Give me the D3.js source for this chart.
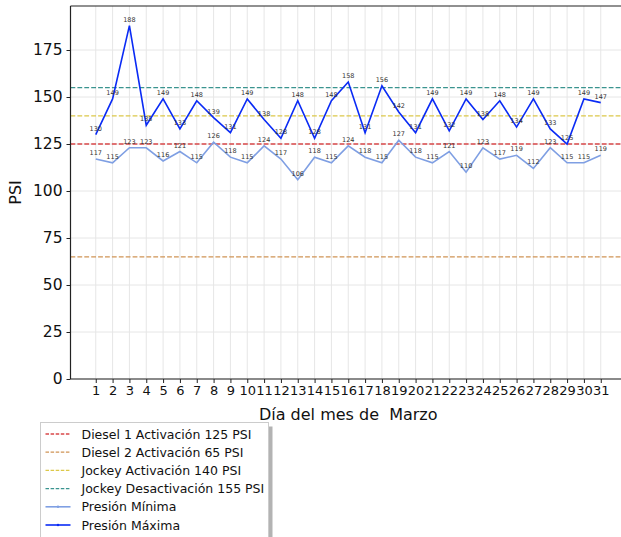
<!DOCTYPE html>
<html>
<head>
<meta charset="utf-8">
<script src="https://cdn.jsdelivr.net/npm/d3@7"></script>
<style>
  body { margin: 0; background: #fff; }
  svg { display: block; font-family: "DejaVu Sans", sans-serif; }
  text { white-space: pre; }
</style>
</head>
<body>
<svg id="chart" width="621" height="537"></svg>
<script>
const days = d3.range(1, 32);
const presionMaxima = [130,149,188,135,149,133,148,139,131,149,138,128,148,128,148,158,131,156,142,131,149,132,149,138,148,134,149,133,125,149,147];
const presionMinima = [117,115,123,123,116,121,115,126,118,115,124,117,106,118,115,124,118,115,127,118,115,121,110,123,117,119,112,123,115,115,119];
const refLabels = ["Diesel 1 Activación 125 PSI","Diesel 2 Activación 65 PSI","Jockey Activación 140 PSI","Jockey Desactivación 155 PSI"];
const refValues = [125, 65, 140, 155];
const refColors = ["#d9484a", "#cf9455", "#dcc849", "#3a948f"];
const yTicks = [0,25,50,75,100,125,150,175];
const xLabel = "Día del mes de  Marzo";
const yLabel = "PSI";
const minColor = "#7f9fe3";
const maxColor = "#0a2bf5";

(function () {
const svg = d3.select("#chart");
const pLeft = 70.5, pRight = 626, pTop = 6, pBottom = 379;
const x = d3.scaleLinear().domain([-0.5, 32.5]).range([pLeft, pRight]);
const y = d3.scaleLinear().domain([0, 175]).range([pBottom, 50]);

// grid
svg.append("g").selectAll("line").data(days).join("line")
  .attr("x1", d => x(d)).attr("x2", d => x(d)).attr("y1", pTop).attr("y2", pBottom)
  .attr("stroke", "#e6e6e6").attr("stroke-width", 1);
svg.append("g").selectAll("line").data(yTicks).join("line")
  .attr("x1", pLeft).attr("x2", pRight).attr("y1", d => y(d)).attr("y2", d => y(d))
  .attr("stroke", "#e6e6e6").attr("stroke-width", 1);

// ref lines
refValues.forEach((v, i) => {
  svg.append("line").attr("x1", pLeft).attr("x2", pRight)
    .attr("y1", y(v)).attr("y2", y(v))
    .attr("stroke", refColors[i]).attr("stroke-width", 1.3)
    .attr("stroke-dasharray", "4.8,2.1");
});

const line = d3.line().x((d, i) => x(days[i])).y(d => y(d));
svg.append("path").datum(presionMinima).attr("d", line)
  .attr("fill", "none").attr("stroke", minColor).attr("stroke-width", 1.6);
svg.append("path").datum(presionMaxima).attr("d", line)
  .attr("fill", "none").attr("stroke", maxColor).attr("stroke-width", 1.6);

// annotations
const ann = svg.append("g").attr("font-size", 6.5).attr("fill", "#333").attr("text-anchor", "middle");
presionMinima.forEach((v, i) => ann.append("text").attr("x", x(days[i])).attr("y", y(v) - 4).text(v));
presionMaxima.forEach((v, i) => ann.append("text").attr("x", x(days[i])).attr("y", y(v) - 4).text(v));

// axes
const xAxis = svg.append("g").attr("transform", `translate(0,${pBottom})`)
  .call(d3.axisBottom(x).tickValues(days).tickSize(4).tickPadding(3).tickSizeOuter(0));
xAxis.selectAll("text").attr("font-size", 13).attr("fill", "#111").attr("font-family", "DejaVu Sans");
const yAxis = svg.append("g").attr("transform", `translate(${pLeft},0)`)
  .call(d3.axisLeft(y).tickValues(yTicks).tickSize(4).tickPadding(4).tickSizeOuter(0));
yAxis.selectAll("text").attr("font-size", 15.5).attr("fill", "#111").attr("font-family", "DejaVu Sans");
[xAxis, yAxis].forEach(a => { a.select(".domain").remove(); a.selectAll("line").attr("stroke", "#222").attr("stroke-width", 1); });

// spines
svg.append("line").attr("x1", pLeft).attr("x2", pLeft).attr("y1", pTop).attr("y2", pBottom).attr("stroke", "#222").attr("stroke-width", 1.2);
svg.append("line").attr("x1", pLeft).attr("x2", pRight).attr("y1", pBottom).attr("y2", pBottom).attr("stroke", "#222").attr("stroke-width", 1.2);
svg.append("line").attr("x1", pLeft).attr("x2", pRight).attr("y1", pTop).attr("y2", pTop).attr("stroke", "#222").attr("stroke-width", 1.2);

// labels
svg.append("text").attr("x", (pLeft + pRight) / 2).attr("y", 420).attr("text-anchor", "middle")
  .attr("font-size", 16).attr("fill", "#111").attr("xml:space", "preserve").text(xLabel);
svg.append("text").attr("transform", `translate(21,${(pTop + pBottom) / 2}) rotate(-90)`).attr("text-anchor", "middle")
  .attr("font-size", 16).attr("fill", "#111").text(yLabel);

// legend
const lx = 40.5, ly = 422.5, lw = 228, lh = 118;
svg.append("rect").attr("x", lx + 4).attr("y", ly + 4).attr("width", lw).attr("height", lh).attr("fill", "#b3b3b3");
svg.append("rect").attr("x", lx).attr("y", ly).attr("width", lw).attr("height", lh).attr("fill", "#fff").attr("stroke", "#ccc").attr("stroke-width", 1);
const legItems = refLabels.map((l, i) => ({label: l, color: refColors[i], dash: true}))
  .concat([{label: "Presión Mínima", color: minColor, dash: false}, {label: "Presión Máxima", color: maxColor, dash: false}]);
legItems.forEach((it, i) => {
  const yy = ly + 11.5 + i * 18.2;
  svg.append("line").attr("x1", lx + 5).attr("x2", lx + 30).attr("y1", yy).attr("y2", yy)
    .attr("stroke", it.color).attr("stroke-width", it.dash ? 1.3 : 1.6)
    .attr("stroke-dasharray", it.dash ? "3.5,1.6" : null);
  if (!it.dash) svg.append("circle").attr("cx", lx + 17.5).attr("cy", yy).attr("r", 1.2).attr("fill", it.color);
  svg.append("text").attr("x", lx + 41).attr("y", yy + 4.5).attr("font-size", 12.5).attr("fill", "#111").text(it.label);
});
})();
</script>
</body>
</html>
